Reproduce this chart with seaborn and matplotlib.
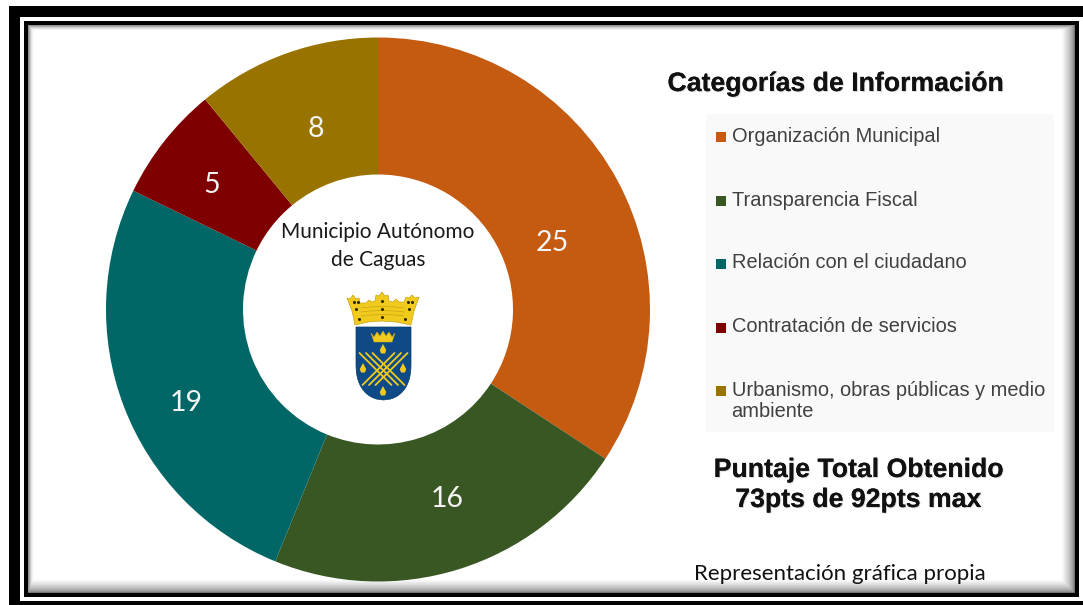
import numpy as np
import pandas as pd
import seaborn as sns
import matplotlib
matplotlib.use("Agg")
import matplotlib.pyplot as plt
import matplotlib.patheffects as pe
from matplotlib.patches import Rectangle, Polygon

categories = ["Organización Municipal", "Transparencia Fiscal", "Relación con el ciudadano",
              "Contratación de servicios", "Urbanismo, obras públicas y medio\nambiente"]
values = [25, 16, 19, 5, 8]
colors = ["#C55A11", "#385723", "#006666", "#7F0000", "#997300"]
label_xy = [(552, 243), (447, 499), (186, 403), (212, 185), (316, 129)]

sns.set_theme(style="white")
W, H = 1083, 605
fig = plt.figure(figsize=(W / 100, H / 100), dpi=100, facecolor="white")
bg = fig.add_axes([0, 0, 1, 1])
bg.set_xlim(0, W); bg.set_ylim(H, 0); bg.axis("off")

# frame: thick outer rule (top, left, bottom), white gap, thin inner rule, inner shadow
bg.add_patch(Rectangle((9, 6), 1074, 599, fc="black", ec="none"))
bg.add_patch(Rectangle((20, 17), 1063, 584, fc="white", ec="none"))
bg.add_patch(Rectangle((24, 21), 1055, 576, fc="black", ec="none"))
n = 14
for i, t in enumerate(np.linspace(0, 1, n)):
    x0, y0 = 28 + 5 * t, 25 + 5 * t
    x1, y1 = 1075 - 13 * t, 593 - 13 * t
    bg.add_patch(Rectangle((x0, y0), x1 - x0, y1 - y0, fc=str(round(0.45 + 0.55 * t ** 0.6, 3)), ec="none"))

# legend panel
bg.add_patch(Rectangle((706, 114), 348, 318, fc="#F9F9F9", ec="none", zorder=1))

# donut
cx, cy, R = 378, 309.5, 272
ax = fig.add_axes([(cx - R) / W, 1 - (cy + R) / H, 2 * R / W, 2 * R / H])
df = pd.DataFrame({"cat": categories, "val": values})
wedges, _ = ax.pie(df["val"], colors=colors, startangle=90, counterclock=False, radius=1,
                   wedgeprops=dict(width=137 / 272, edgecolor="none", linewidth=0))
ax.set_xlim(-1, 1); ax.set_ylim(-1, 1); ax.axis("off")

txt = fig.add_axes([0, 0, 1, 1]); txt.set_xlim(0, W); txt.set_ylim(H, 0); txt.axis("off")
txt.patch.set_alpha(0)

num_font = ["Lato", "DejaVu Sans"]
for (x, y), v in zip(label_xy, df["val"]):
    txt.text(x, y, str(v), color="#F4F4F4", fontsize=20.5, family=num_font, ha="center", va="center")

txt.text(378, 246, "Municipio Autónomo\nde Caguas", ha="center", va="center", fontsize=15,
         family=num_font, color="#1a1a1a", linespacing=1.5)

sans = ["Liberation Sans", "DejaVu Sans"]
shadow = [pe.withSimplePatchShadow(offset=(0.7, -0.7), shadow_rgbFace="#777777", alpha=0.3), pe.Normal()]
txt.text(835, 84, "Categorías de Información", ha="center", va="center", fontsize=19.2,
         fontweight="bold", family=sans, color="#111111", path_effects=shadow)
txt.text(858, 485, "Puntaje Total Obtenido\n73pts de 92pts max", ha="center", va="center", fontsize=19.2,
         fontweight="bold", family=sans, color="#111111", linespacing=1.2, path_effects=shadow)
txt.text(694, 574, "Representación gráfica propia", ha="left", va="center", fontsize=16,
         family=num_font, color="#111111")

ys = [136, 200, 263, 327, 401]
for c, col, y in zip(categories, colors, ys):
    sq_y = y if "\n" not in c else 390
    txt.add_patch(Rectangle((716, sq_y - 4.5), 10, 10, fc=col, ec="none"))
    txt.text(731.5, y, c, ha="left", va="center", fontsize=14.4, family=sans, color="#404040",
             linespacing=1.12)

# crest: crown
gold, dark, blue, line = "#F0CB1E", "#2e2606", "#0E4A86", "#C9A514"
txt.add_patch(Polygon([(347, 298), (350, 299), (353, 295), (356, 299), (359, 298), (360, 303), (366, 303),
                       (369, 300), (372, 302), (375, 301), (376, 295), (379, 296), (382, 292), (385, 296),
                       (388, 295), (389, 301), (393, 302), (396, 299), (399, 302), (404, 302), (406, 297),
                       (409, 298), (412, 295), (415, 298), (419, 297), (414, 311), (411, 325),
                       (396, 322), (382, 321), (368, 322), (355, 325), (352, 311)],
                      fc=gold, ec=line, lw=0.5))
for yy in (308, 312, 316):
    txt.plot([361, 370, 382, 395, 404], [yy, yy - 1, yy - 1.5, yy - 1, yy], color=line, lw=0.5)
for x0, y0 in [(354, 302), (358, 302), (356, 309), (382, 301), (382, 309), (408, 302), (412, 302),
               (409, 309), (359, 319), (382, 317), (405, 319)]:
    txt.plot([x0], [y0], "o", ms=2.2, color=dark, mew=0)
# crest: shield
t = np.linspace(0, 1, 40)
half = 27.5 * np.sqrt(np.clip(1 - t ** 2.6, 0, 1))
pts = [(356, 327), (411, 327)] + [(383.5 + h, 362 + 38 * s) for h, s in zip(half, t)] + \
      [(383.5 - h, 362 + 38 * s) for h, s in zip(half[::-1], t[::-1])]
txt.add_patch(Polygon(pts, fc=blue, ec="#0a3a6a", lw=0.5))
txt.add_patch(Polygon([(371, 333), (374, 337), (377, 332), (380, 336), (383, 331), (386, 336), (389, 332),
                       (392, 337), (395, 333), (392, 342), (374, 342)], fc=gold, ec=line, lw=0.4))
for k in (-6.5, 0, 6.5):
    txt.plot([366 + k, 398 + k], [353, 385], color=gold, lw=1.3, solid_capstyle="round")
    txt.plot([401 + k, 369 + k], [353, 385], color=gold, lw=1.3, solid_capstyle="round")
for x0, y0 in [(383, 349), (363, 368), (403, 368), (383, 391)]:
    txt.add_patch(Polygon([(x0, y0 - 5), (x0 + 3.2, y0 + 1), (x0 + 2, y0 + 4.5), (x0 - 2, y0 + 4.5),
                           (x0 - 3.2, y0 + 1)], fc=gold, ec="none"))

fig.savefig("out.png", dpi=100, facecolor="white")
